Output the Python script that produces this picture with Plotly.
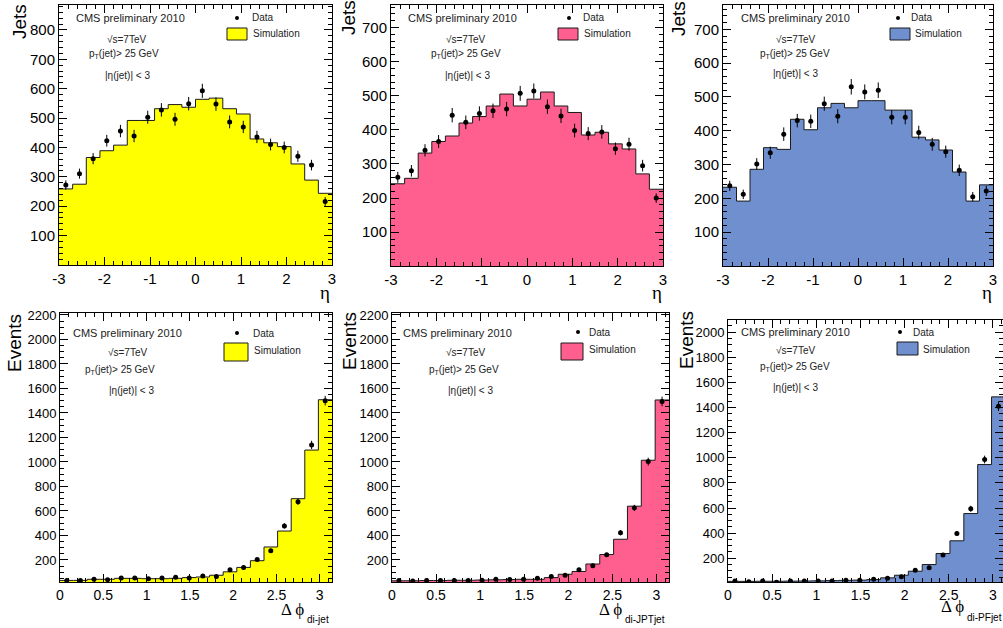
import plotly.graph_objects as go

W, H = 1003, 628

# ---------------- data ----------------
eta_edges = [-3.0, -2.7, -2.4, -2.1, -1.8, -1.5, -1.2, -0.9, -0.6, -0.3, 0.0,
             0.3, 0.6, 0.9, 1.2, 1.5, 1.8, 2.1, 2.4, 2.7, 3.0]
eta_centers = [-2.85, -2.55, -2.25, -1.95, -1.65, -1.35, -1.05, -0.75, -0.45, -0.15,
               0.15, 0.45, 0.75, 1.05, 1.35, 1.65, 1.95, 2.25, 2.55, 2.85]

calo_eta_sim = [259, 275, 366, 389, 408, 492, 492, 532, 546, 537, 564, 568, 532, 514, 429, 416, 403, 344, 289, 244]
calo_eta_data = [272, 311, 362, 423, 456, 439, 503, 528, 496, 549, 593, 548, 487, 470, 436, 410, 400, 370, 340, 216]
calo_eta_err = [16, 17, 19, 20, 21, 21, 22, 23, 22, 23, 24, 23, 22, 21, 21, 20, 20, 19, 18, 15]

jpt_eta_sim = [242, 258, 332, 366, 382, 420, 439, 470, 505, 470, 490, 511, 470, 451, 385, 393, 359, 344, 271, 226]
jpt_eta_data = [261, 280, 340, 366, 443, 422, 448, 456, 461, 507, 514, 468, 441, 398, 389, 394, 345, 358, 295, 200]
jpt_eta_err = [16, 17, 18, 19, 21, 20, 21, 21, 21, 22, 22, 21, 21, 20, 19, 20, 18, 19, 17, 14]

pf_eta_sim = [233, 192, 286, 350, 345, 434, 403, 468, 481, 468, 489, 489, 461, 461, 381, 373, 343, 278, 192, 240]
pf_eta_data = [237, 212, 302, 335, 390, 430, 428, 480, 443, 530, 515, 520, 440, 440, 395, 360, 338, 283, 205, 222]
pf_eta_err = [15, 14, 17, 18, 20, 20, 20, 21, 21, 23, 22, 23, 21, 21, 20, 19, 18, 17, 14, 15]

phi_edges = [0.0, 0.15708, 0.31416, 0.47124, 0.62832, 0.7854, 0.94248, 1.09956, 1.25664,
             1.41372, 1.5708, 1.72788, 1.88496, 2.04204, 2.19911, 2.35619, 2.51327,
             2.67035, 2.82743, 2.98451, 3.14159]
phi_centers = [0.07854, 0.23562, 0.3927, 0.54978, 0.70686, 0.86394, 1.02102, 1.1781,
               1.33518, 1.49226, 1.64934, 1.80642, 1.9635, 2.12058, 2.27765, 2.43473,
               2.59181, 2.74889, 2.90597, 3.06305]

calo_phi_sim = [33, 33, 42, 42, 50, 50, 47, 47, 50, 56, 61, 75, 103, 139, 194, 306, 436, 700, 1097, 1508]
calo_phi_data = [33, 33, 42, 39, 53, 53, 47, 53, 58, 53, 69, 64, 119, 139, 203, 275, 478, 675, 1139, 1500]
calo_phi_err = [6, 6, 6, 6, 7, 7, 7, 7, 8, 7, 8, 8, 11, 12, 14, 17, 22, 26, 34, 39]

jpt_phi_sim = [30, 30, 32, 32, 34, 34, 36, 38, 40, 42, 42, 56, 83, 106, 167, 244, 369, 639, 1014, 1506]
jpt_phi_data = [32, 28, 32, 33, 33, 33, 35, 42, 40, 42, 50, 64, 75, 119, 153, 242, 422, 625, 1003, 1494]
jpt_phi_err = [6, 5, 6, 6, 6, 6, 6, 6, 6, 6, 7, 8, 9, 11, 12, 16, 21, 25, 32, 39]

pf_phi_sim = [16, 16, 17, 17, 18, 19, 20, 22, 24, 26, 30, 44, 65, 97, 150, 238, 339, 556, 946, 1485]
pf_phi_data = [18, 12, 18, 10, 18, 18, 18, 18, 25, 25, 33, 41, 52, 105, 124, 225, 397, 594, 986, 1411]
pf_phi_err = [4, 3, 4, 3, 4, 4, 4, 4, 5, 5, 6, 6, 7, 10, 11, 15, 20, 24, 31, 38]

eta_tickvals = [-3, -2, -1, 0, 1, 2, 3]
eta_ticktext = ["-3", "-2", "-1", "0", "1", "2", "3"]
phi_tickvals = [0, 0.5, 1, 1.5, 2, 2.5, 3]
phi_ticktext = ["0", "0.5", "1", "1.5", "2", "2.5", "3"]
jets_ticks = [100, 200, 300, 400, 500, 600, 700, 800]
events_ticks = [200, 400, 600, 800, 1000, 1200, 1400, 1600, 1800, 2000, 2200]

YELLOW = "#FFFF00"
PINK = "#FF5F8E"
BLUE = "#6F8FCF"
FONT = "Liberation Sans, Arial, sans-serif"
SERIF = "Liberation Serif, Times New Roman, serif"


def fx(x):
    return x / W


def fy(y):
    return 1 - y / H


panels = [
    dict(xd=(59, 332), yd=(5, 265), xr=[-3, 3], yr=[0, 885], edges=eta_edges, cen=eta_centers,
         sim=calo_eta_sim, data=calo_eta_data, err=calo_eta_err, color=YELLOW, kind="eta"),
    dict(xd=(391, 663), yd=(5, 266), xr=[-3, 3], yr=[1, 766], edges=eta_edges, cen=eta_centers,
         sim=jpt_eta_sim, data=jpt_eta_data, err=jpt_eta_err, color=PINK, kind="eta"),
    dict(xd=(723, 993), yd=(5, 266), xr=[-3, 3], yr=[0, 772], edges=eta_edges, cen=eta_centers,
         sim=pf_eta_sim, data=pf_eta_data, err=pf_eta_err, color=BLUE, kind="eta"),
    dict(xd=(60, 332), yd=(313, 582), xr=[0, 3.1416], yr=[20, 2216], edges=phi_edges, cen=phi_centers,
         sim=calo_phi_sim, data=calo_phi_data, err=calo_phi_err, color=YELLOW, kind="phi"),
    dict(xd=(392, 669), yd=(313, 582), xr=[0, 3.1416], yr=[20, 2216], edges=phi_edges, cen=phi_centers,
         sim=jpt_phi_sim, data=jpt_phi_data, err=jpt_phi_err, color=PINK, kind="phi"),
    dict(xd=(728, 1003), yd=(320, 582), xr=[0, 3.114], yr=[11, 2097], edges=phi_edges, cen=phi_centers,
         sim=pf_phi_sim, data=pf_phi_data, err=pf_phi_err, color=BLUE, kind="phi"),
]

fig = go.Figure()
layout = dict(
    width=W, height=H, margin=dict(l=0, r=0, t=0, b=0, autoexpand=False),
    paper_bgcolor="white", plot_bgcolor="white", showlegend=False,
    font=dict(family=FONT, color="black"),
)

for i, p in enumerate(panels):
    n = "" if i == 0 else str(i + 1)
    xa, ya = "x" + n, "y" + n
    fig.add_trace(go.Scatter(
        x=p["edges"], y=p["sim"] + [p["sim"][-1]], xaxis=xa, yaxis=ya,
        mode="lines", line=dict(shape="hv", color="#1a1a1a", width=1),
        fill="tozeroy", fillcolor=p["color"], hoverinfo="skip"))
    fig.add_trace(go.Scatter(
        x=p["cen"], y=p["data"], xaxis=xa, yaxis=ya, mode="markers",
        marker=dict(color="black", size=5),
        error_y=dict(type="data", array=p["err"], width=0, thickness=1, color="black")))

    eta = p["kind"] == "eta"
    xsize = 15 if eta else 14
    ysize = 15 if eta else 13
    xaxis = dict(
        domain=[fx(p["xd"][0]), fx(p["xd"][1])], range=p["xr"], anchor=ya,
        showline=True, linecolor="black", linewidth=1, mirror="allticks",
        ticks="inside", ticklen=8, tickwidth=1, tickcolor="black",
        tickvals=eta_tickvals if eta else phi_tickvals,
        ticktext=eta_ticktext if eta else phi_ticktext,
        minor=dict(ticks="inside", ticklen=4, tickcolor="black",
                   dtick=0.2 if eta else 0.1, tick0=0),
        showgrid=False, zeroline=False,
        tickfont=dict(size=xsize, family=FONT, color="black"),
    )
    yaxis = dict(
        domain=[fy(p["yd"][1]), fy(p["yd"][0])], range=p["yr"], anchor=xa,
        showline=True, linecolor="black", linewidth=1, mirror="allticks",
        ticks="inside", ticklen=8, tickwidth=1, tickcolor="black",
        tickvals=jets_ticks if eta else events_ticks,
        minor=dict(ticks="inside", ticklen=4, tickcolor="black",
                   dtick=20 if eta else 50, tick0=0),
        showgrid=False, zeroline=False,
        tickfont=dict(size=ysize, family=FONT, color="black"),
    )
    layout["xaxis" + n] = xaxis
    layout["yaxis" + n] = yaxis

fig.update_layout(**layout)

# ---------------- text & legends ----------------
ann = []
shapes = []


def text(x, y, s, size=11, color="#222", family=FONT, angle=0, xanchor="center", yanchor="middle"):
    ann.append(dict(x=fx(x), y=fy(y), xref="paper", yref="paper", text=s, showarrow=False,
                    font=dict(size=size, color=color, family=family), textangle=angle,
                    xanchor=xanchor, yanchor=yanchor))


info = [
    (130, 18, [(126, 40), (124, 54), (127, 75)]),
    (462, 18, [(465, 40), (466, 54), (467, 75)]),
    (795, 18, [(795, 40), (795, 54), (795, 74)]),
    (127, 333, [(128, 352), (120, 370), (131, 390)]),
    (457, 333, [(465, 352), (464, 370), (470, 390)]),
    (795, 332, [(795, 350), (795, 367), (795, 387)]),
]
lines = ["√s=7TeV", "p<sub>T</sub>(jet)> 25 GeV", "|η(jet)| < 3"]
for (cx, cy, ls) in info:
    text(cx, cy, "CMS preliminary 2010", size=11)
    for (lx, ly), s in zip(ls, lines):
        text(lx, ly, s, size=10)

legs = [
    ((237, 18), 250, (227, 28, 247, 40), 251, 34, YELLOW),
    ((569, 18), 581, (558, 28, 578, 40), 582, 34, PINK),
    ((898, 18), 909, (890, 28, 910, 40), 913, 34, BLUE),
    ((237, 333), 251, (224, 343, 248, 361), 252, 350, YELLOW),
    ((578, 332), 587, (561, 343, 583, 360), 587, 349, PINK),
    ((900, 332), 911, (897, 342, 918, 355), 921, 349, BLUE),
]
for (dx, dy), tx, (x0, y0, x1, y1), sx, sy, col in legs:
    shapes.append(dict(type="circle", xref="paper", yref="paper",
                       x0=fx(dx - 2), x1=fx(dx + 2), y0=fy(dy + 2), y1=fy(dy - 2),
                       fillcolor="black", line=dict(color="black", width=0)))
    text(tx, dy, "Data", size=10, xanchor="left")
    shapes.append(dict(type="rect", xref="paper", yref="paper",
                       x0=fx(x0), x1=fx(x1), y0=fy(y1), y1=fy(y0),
                       fillcolor=col, line=dict(color="#1a1a1a", width=1)))
    text(sx, sy, "Simulation", size=10, xanchor="left")

for (x, y) in [(20, 22), (349, 18), (678, 19)]:
    text(x, y, "Jets", size=19, color="black", angle=-90)
for (x, y) in [(14, 343), (349, 341), (686, 340)]:
    text(x, y, "Events", size=19, color="black", angle=-90)
for x in [325, 657, 987]:
    text(x, 292, "η", size=19, color="black", family=SERIF)

xt = [(292, 609, 305, 619, "di-jet"), (610, 609, 623, 619, "di-JPTjet"), (952, 606, 965, 617, "di-PFjet")]
for (ax_, ay_, bx_, by_, sub) in xt:
    text(ax_, ay_, "Δ ϕ", size=17, color="black", family=SERIF)
    text(bx_, by_, sub, size=10, color="black", xanchor="left")

fig.update_layout(annotations=ann, shapes=shapes)
fig.write_html(
    "out.html",
    config={"displayModeBar": False},
    post_script="document.body.style.margin='0';document.body.style.padding='0';"
                "document.body.style.overflow='hidden';",
)
